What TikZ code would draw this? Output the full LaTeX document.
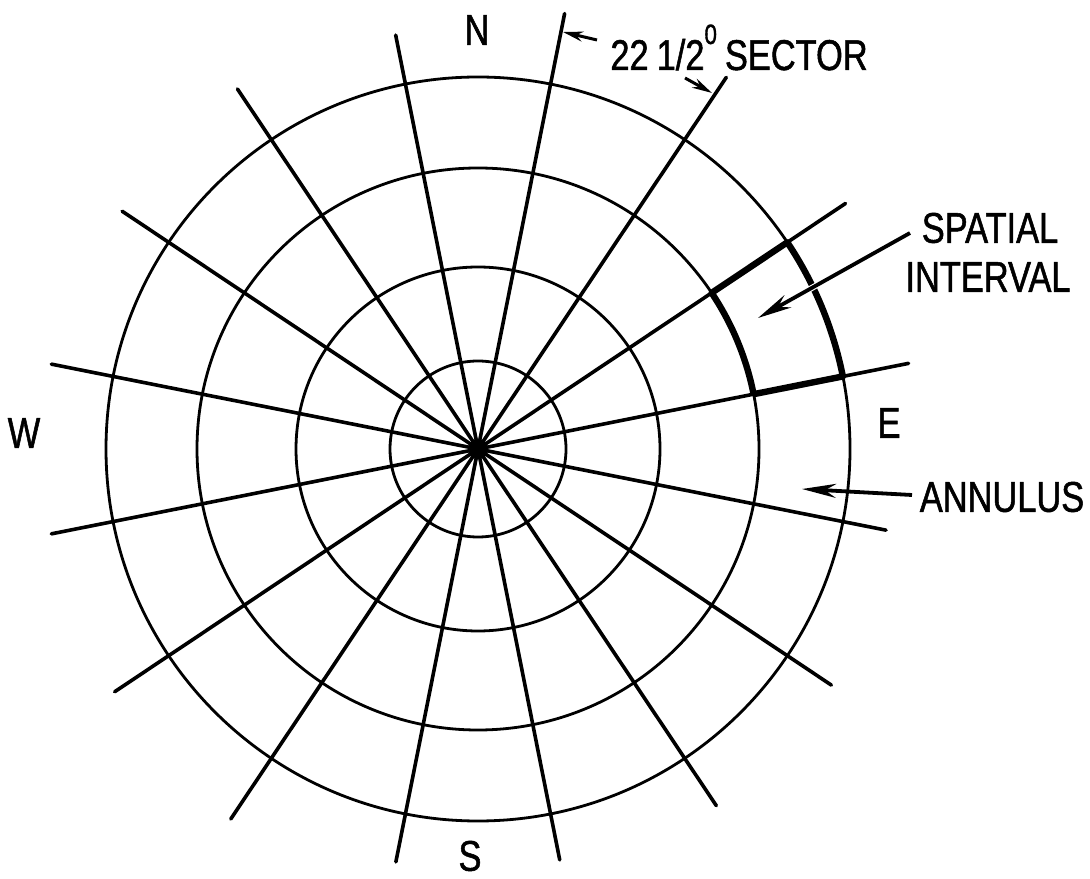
\documentclass[tikz,border=0pt]{standalone}
\usepackage{fontspec}
\setmainfont{Liberation Sans}[FakeStretch=0.8,FakeBold=1.2]
\usetikzlibrary{arrows.meta,calc}
\begin{document}
\begin{tikzpicture}[x=0.5pt,y=0.5pt,
  ring/.style={line width=1.4pt},
  ray/.style={line width=1.8pt, line cap=round},
  cellline/.style={line width=3.2pt, line join=round},
  lbl/.style={font=\fontsize{21.5}{24}\selectfont, inner sep=0pt},
  bigarrow/.style={line width=1.9pt, -{Stealth[length=17pt,width=7pt]}},
  smallarrow/.style={line width=1.5pt, -{Stealth[length=10pt,width=5pt]}}]
\useasboundingbox (0,0) rectangle (1090,878);
\coordinate (C) at (478,429);
% rings
\foreach \r in {88,182,281,372} \draw[ring] (C) circle[radius=\r];
% rays
\foreach \a/\l in {11.25/439, 33.75/442, 56.25/447, 78.75/444,
                   101.25/422, 123.75/433, 146.25/428, 168.75/435,
                   191.25/435, 213.75/437, 236.25/445, 258.75/421,
                   281.25/419, 303.75/429, 326.25/425, 348.75/416}
  \draw[ray] (C) -- ++(\a:\l);
% dense hub where the rays meet
\fill (C) circle[radius=10];
% spatial interval cell
\draw[cellline] ($(C)+(11.25:281)$) -- ($(C)+(11.25:372)$)
  arc[start angle=11.25, end angle=33.75, radius=372]
  -- ($(C)+(33.75:281)$)
  arc[start angle=33.75, end angle=11.25, radius=281];
% gap where the arrow crosses the outer arc
\draw[white, line width=3pt] (824.9,597.4) -- (800.6,583.8);
% labels
\node[lbl] (N) at (477,848) {N};
\node[lbl] (W) at (24,445) {W};
\node[lbl] (E) at (889,455) {E};
\node[lbl] (S) at (470,22) {S};
\node[lbl, anchor=base west] (sector) at (610,808)
  {22\hspace{4pt}1/2\raisebox{13pt}{\fontsize{14}{16}\selectfont 0}\hspace{4pt}SECTOR};
\node[lbl] (spatial) at (990,650) {SPATIAL};
\node[lbl] (interval) at (988,601) {INTERVAL};
\node[lbl] (annulus) at (1002,381) {ANNULUS};
% arrows
\coordinate (spT) at (910,645); \coordinate (spH) at (758,560);
\draw[bigarrow] (spT) -- (spH);
\coordinate (anT) at (912,383); \coordinate (anH) at (802,389);
\draw[bigarrow] (anT) -- (anH);
\coordinate (seT1) at (597,838); \coordinate (seH1) at (563,846);
\draw[smallarrow] (seT1) -- (seH1);
\coordinate (seT2) at (685,800); \coordinate (seH2) at (712,785);
\draw[smallarrow] (seT2) -- (seH2);
\end{tikzpicture}
\end{document}
